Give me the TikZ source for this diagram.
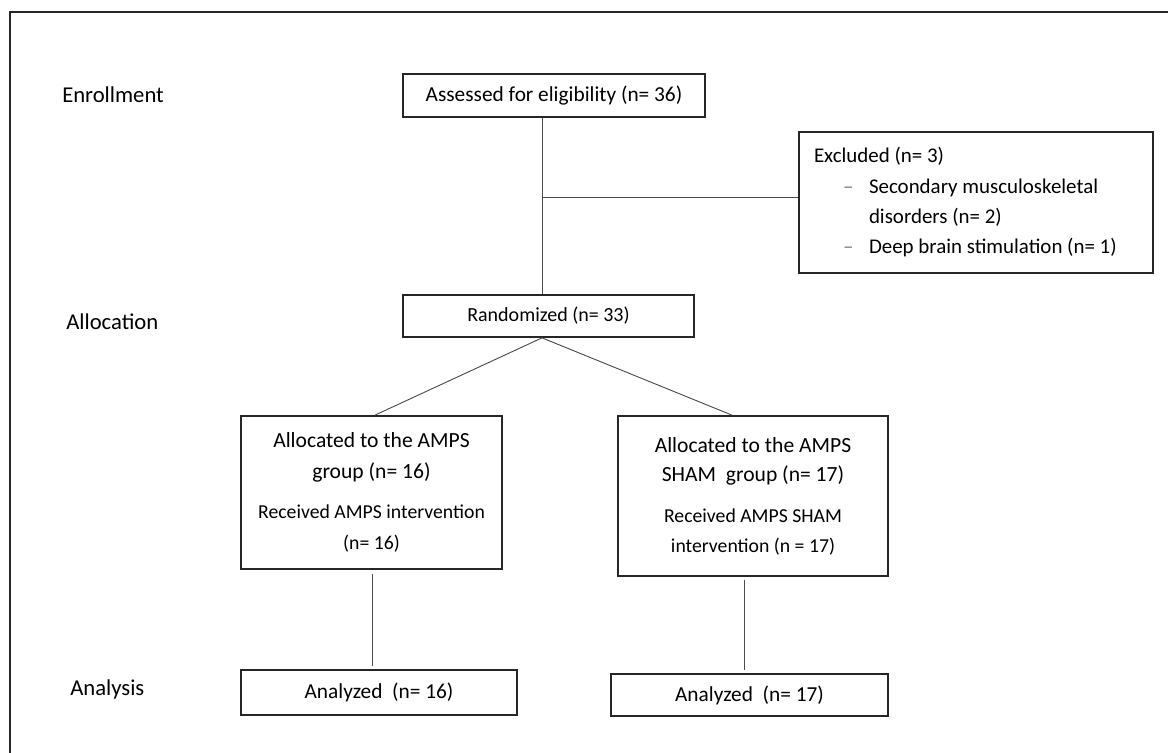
\documentclass[tikz,border=0pt]{standalone}
\usepackage{fontspec}
\setmainfont{Carlito}
\usepackage{tikz}
\usetikzlibrary{positioning,calc}

\newcommand{\exitem}[1]{\hspace*{21.75pt}\makebox[19.5pt][l]{\textcolor{gray}{--}}#1}

\begin{document}
\begin{tikzpicture}[
  x=0.75pt, y=-0.75pt,
  font=\fontsize{15.7}{22.75}\selectfont,
  box/.style={draw=black!85, rectangle, line width=1.3pt, inner sep=0pt, align=center},
  stage/.style={anchor=west, inner sep=0pt, font=\fontsize{17}{20}\selectfont},
  link/.style={line width=0.7pt, black!70}
]
  \useasboundingbox (0,0) rectangle (1168,753);
  \draw[line width=0.8pt, black!85] (10,753) -- (10,12) -- (1168,12);

  % stage labels
  \node[stage] (enrol) at (62,95) {Enrollment};
  \node[stage] (alloc) at (66,322) {Allocation};
  \node[stage] (anal) at (70,689) {Analysis};

  % boxes
  \node[box, minimum width=226.5pt, minimum height=32.25pt, font=\fontsize{16}{20}\selectfont] (assess) at (554,95.5)
    {Assessed for eligibility (n= 36)};
  \node[box, text width=243pt, inner xsep=11.25pt, minimum height=105.75pt, align=flush left] (excl) at (976,202.5)
    {Excluded (n= 3)\\
     \exitem{Secondary musculoskeletal}\\
     \hspace*{41.25pt}disorders (n= 2)\\
     \exitem{Deep brain stimulation (n= 1)}};
  \node[box, minimum width=218.25pt, minimum height=31.5pt, font=\fontsize{15}{20}\selectfont] (rand) at (548.5,316)
    {Randomized (n= 33)};
  \node[box, minimum width=195.75pt, minimum height=114.75pt, font=\fontsize{16.2}{23.5}\selectfont] (ampsgrp) at (371.5,492.5)
    {Allocated to the AMPS\\ group (n= 16)\\[6pt]
     {\fontsize{14.8}{21}\selectfont Received AMPS intervention}\\
     {\fontsize{14.8}{21}\selectfont (n= 16)}};
  \node[box, minimum width=202.5pt, minimum height=120pt, font=\fontsize{16.2}{22}\selectfont] (shamgrp) at (753,496)
    {Allocated to the AMPS\\ SHAM\ \ group (n= 17)\\[9pt]
     {\fontsize{14.8}{19}\selectfont Received AMPS SHAM}\\
     {\fontsize{14.8}{19}\selectfont intervention (n = 17)}};
  \node[box, minimum width=207pt, minimum height=33.75pt, font=\fontsize{16}{20}\selectfont] (anl1) at (379,692.5)
    {Analyzed\ \ (n= 16)};
  \node[box, minimum width=207.75pt, minimum height=31.5pt, font=\fontsize{16}{20}\selectfont] (anl2) at (749.5,695)
    {Analyzed\ \ (n= 17)};

  % connectors
  \coordinate (split) at (542,197);
  \draw[link] (split |- assess.south) -- (split |- rand.north);
  \draw[link] (split) -- (split -| excl.west);
  \draw[link] (split |- rand.south) -- ([xshift=2.6pt]ampsgrp.north);
  \draw[link] (split |- rand.south) -- ([xshift=-15.75pt]shamgrp.north);
  \draw[link] ([xshift=1pt, yshift=-3pt]ampsgrp.south) -- ([xshift=1pt, yshift=2pt]ampsgrp.south |- anl1.north);
  \draw[link] ([xshift=-6.75pt, yshift=-2pt]shamgrp.south) -- ([xshift=-6.75pt, yshift=2pt]shamgrp.south |- anl2.north);
\end{tikzpicture}
\end{document}
